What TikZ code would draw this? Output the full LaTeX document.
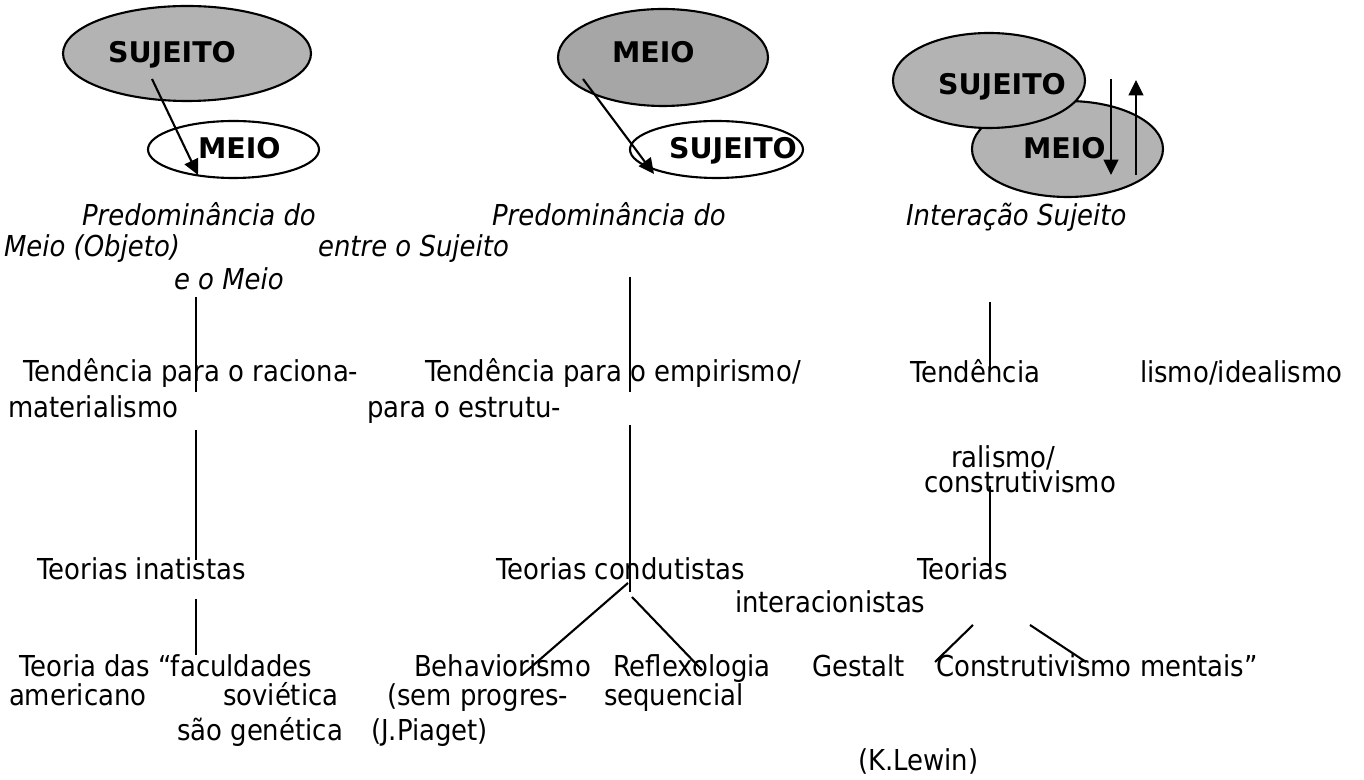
\documentclass[tikz,border=0pt]{standalone}
\usepackage{fontspec}
\setmainfont{DejaVu Sans}[FakeStretch=0.9]
\newfontfamily\lblfont{DejaVu Sans}
\usepackage{xcolor}
\usetikzlibrary{arrows.meta,shapes.geometric}
\definecolor{ovgray}{HTML}{B3B3B3}
\definecolor{ovdark}{HTML}{A6A6A6}
\begin{document}
\begin{tikzpicture}[>={Triangle[length=4.4pt,width=4.2pt]},line width=0.6pt,
  txt/.style={anchor=base west,inner sep=0pt,font=\fontsize{8.2}{9}\selectfont},
  itx/.style={anchor=base west,inner sep=0pt,font=\fontsize{8.2}{9}\selectfont\itshape},
  lbl/.style={anchor=base west,inner sep=0pt,font=\lblfont\fontsize{8.1}{10}\selectfont\bfseries},
  oval/.style={ellipse,draw,line width=0.6pt,inner sep=0pt}]
\useasboundingbox (0,0) rectangle (13.64,-7.80);
% the three ellipse pairs
\node[oval,fill=ovgray,minimum width=2.48cm,minimum height=0.95cm] (sujA) at (1.87,-0.535) {};
\node[oval,fill=white,minimum width=1.71cm,minimum height=0.57cm] (meioA) at (2.335,-1.495) {};
\node[oval,fill=ovdark,minimum width=2.10cm,minimum height=0.97cm] (meioB) at (6.63,-0.575) {};
\node[oval,fill=white,minimum width=1.73cm,minimum height=0.57cm] (sujB) at (7.165,-1.495) {};
\node[oval,fill=ovgray,minimum width=1.91cm,minimum height=0.96cm] (meioC) at (10.675,-1.49) {};
\node[oval,fill=ovgray,minimum width=1.92cm,minimum height=0.95cm] (sujC) at (9.89,-0.805) {};
\node[lbl] (tsujA) at (1.07,-0.63) {SUJEITO};
\node[lbl] (tmeioA) at (1.97,-1.59) {MEIO};
\node[lbl] (tmeioB) at (6.11,-0.63) {MEIO};
\node[lbl] (tsujB) at (6.68,-1.59) {SUJEITO};
\node[lbl] (tsujC) at (9.37,-0.95) {SUJEITO};
\node[lbl] (tmeioC) at (10.22,-1.59) {MEIO};
\coordinate (a1s) at (1.52,-0.79);  \coordinate (a1e) at (1.98,-1.75);
\coordinate (a2s) at (5.83,-0.79);  \coordinate (a2e) at (6.54,-1.74);
\coordinate (a3s) at (11.11,-0.79); \coordinate (a3e) at (11.11,-1.75);
\coordinate (a4s) at (11.36,-1.75); \coordinate (a4e) at (11.36,-0.80);
\draw[->] (a1s) -- (a1e);
\draw[->] (a2s) -- (a2e);
\draw[->] (a3s) -- (a3e);
\draw[->] (a4s) -- (a4e);
% captions
\node[itx] (predA) at (0.81,-2.26) {Predominância do};
\node[itx] (predB) at (4.91,-2.26) {Predominância do};
\node[itx] (inter) at (9.05,-2.26) {Interação Sujeito};
\node[itx] (objeto) at (0.03,-2.57) {Meio (Objeto)};
\node[itx] (entre) at (3.17,-2.57) {entre o Sujeito};
\node[itx] (eomeio) at (1.73,-2.90) {e o Meio};
% tendencies
\node[txt] (tendA) at (0.22,-3.82) {Tendência para o raciona-};
\node[txt] (tendB) at (4.24,-3.82) {Tendência para o empirismo/};
\node[txt] (tendC) at (9.09,-3.83) {Tendência};
\node[txt] (ideal) at (11.39,-3.83) {lismo/idealismo};
\node[txt] (mater) at (0.07,-4.18) {materialismo};
\node[txt] (estru) at (3.66,-4.18) {para o estrutu-};
\node[txt] (ralis) at (9.50,-4.68) {ralismo/};
\node[txt] (const) at (9.23,-4.93) {construtivismo};
% theories
\node[txt] (teoA) at (0.36,-5.80) {Teorias inatistas};
\node[txt] (teoB) at (4.95,-5.80) {Teorias condutistas};
\node[txt] (teoC) at (9.16,-5.80) {Teorias};
\node[txt] (inacio) at (7.34,-6.13) {interacionistas};
\node[txt] (facul) at (0.18,-6.77) {Teoria das “faculdades};
\node[txt] (behav) at (4.13,-6.77) {Behaviorismo};
\node[txt] (refle) at (6.12,-6.77) {Reflexologia};
\node[txt] (gesta) at (8.11,-6.77) {Gestalt};
\node[txt] (constr) at (9.35,-6.77) {Construtivismo};
\node[txt] (menta) at (11.39,-6.77) {mentais”};
\node[txt] (ameri) at (0.08,-7.06) {americano};
\node[txt] (sovie) at (2.22,-7.06) {soviética};
\node[txt] (progr) at (3.86,-7.06) {(sem progres-};
\node[txt] (seque) at (6.03,-7.06) {sequencial};
\node[txt] (genet) at (1.76,-7.41) {são genética};
\node[txt] (piage) at (3.70,-7.41) {(J.Piaget)};
\node[txt] (lewin) at (8.57,-7.71) {(K.Lewin)};
% connector pieces
\foreach \n/\xa/\ya/\xb/\yb in {
  la/1.96/2.97/1.96/3.92, lb/1.96/4.30/1.96/5.60, lc/1.96/5.99/1.96/6.55,
  ma/6.30/2.77/6.30/3.92, mb/6.30/4.25/6.30/5.92,
  md/6.28/5.83/5.22/6.75, me/6.32/5.97/7.02/6.70,
  ra/9.90/3.02/9.90/3.70, rb/9.90/4.86/9.90/5.73,
  rd/9.73/6.25/9.35/6.62, re/10.30/6.25/10.86/6.62
} {
  \coordinate (\n s) at (\xa,-\ya);
  \coordinate (\n e) at (\xb,-\yb);
  \draw (\n s) -- (\n e);
}
\end{tikzpicture}
\end{document}
